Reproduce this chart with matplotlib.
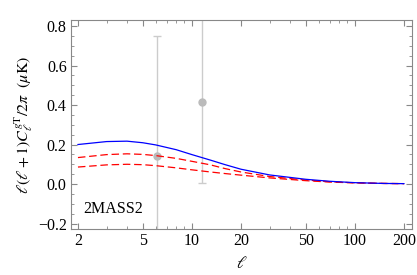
import numpy as np
import matplotlib
matplotlib.use('Agg')
from matplotlib import pyplot as plt
from matplotlib.ticker import FixedLocator, MultipleLocator, NullFormatter

# values
ell = [2, 3, 4, 5, 6, 8, 10, 13, 16, 20, 30, 50, 70, 100, 150, 200]
cl_blue = [0.200, 0.215, 0.217, 0.209, 0.198, 0.174, 0.149, 0.121, 0.098, 0.075,
           0.046, 0.024, 0.014, 0.007, 0.003, 0.002]
cl_red_hi = [0.134, 0.149, 0.153, 0.150, 0.144, 0.130, 0.115, 0.097, 0.078, 0.061,
             0.038, 0.020, 0.012, 0.006, 0.003, 0.002]
cl_red_lo = [0.086, 0.097, 0.100, 0.098, 0.093, 0.082, 0.072, 0.061, 0.053, 0.045,
             0.031, 0.017, 0.010, 0.006, 0.003, 0.002]

# data points with error bars (lower / upper)
ell_pts = [6.1, 11.5]
cl_pts = [0.143, 0.415]
cl_err_lo = [0.606, 0.412]
cl_err_hi = [0.606, 0.45]

xticks = [2, 5, 10, 20, 50, 100, 200]
yticks = [-0.2, 0.0, 0.2, 0.4, 0.6, 0.8]

plt.rcParams['font.family'] = ['Liberation Serif', 'DejaVu Serif']
plt.rcParams['mathtext.fontset'] = 'stix'

fig = plt.figure(figsize=(4.17, 2.75), dpi=100)
ax = fig.add_axes([0.170, 0.167, 0.818, 0.760])

frame = '#888888'
ax.errorbar(ell_pts, cl_pts, yerr=[cl_err_lo, cl_err_hi], fmt='o', color='#bbbbbb',
            ecolor='#cccccc', elinewidth=1.0, capsize=3, capthick=1.0, markersize=5, zorder=1)
ax.plot(ell, cl_blue, color='#0000ff', lw=0.9, zorder=3)
ax.plot(ell, cl_red_hi, color='#ff0000', lw=0.9, dashes=(6, 3), zorder=2)
ax.plot(ell, cl_red_lo, color='#ff0000', lw=0.9, dashes=(6, 3), zorder=2)

ax.set_xscale('log')
ax.set_xlim(1.81, 224)
ax.set_ylim(-0.228, 0.83)

ax.xaxis.set_major_locator(FixedLocator(xticks))
ax.set_xticklabels([str(t) for t in xticks])
ax.xaxis.set_minor_locator(FixedLocator([3, 4, 6, 7, 8, 9, 30, 40, 60, 70, 80, 90]))
ax.xaxis.set_minor_formatter(NullFormatter())
ax.yaxis.set_major_locator(FixedLocator(yticks))
ax.set_yticklabels(['\u22120.2', '0.0', '0.2', '0.4', '0.6', '0.8'])
ax.yaxis.set_minor_locator(MultipleLocator(0.05))

ax.tick_params(which='both', direction='in', top=True, right=True, color=frame,
               labelsize=11.5, pad=3)
ax.tick_params(which='major', length=4, width=0.8)
ax.tick_params(which='minor', length=2, width=0.6)
for s in ax.spines.values():
    s.set_color(frame)
    s.set_linewidth(0.8)

ax.set_xlabel(r'$\ell$', fontsize=12, labelpad=5)
ax.set_ylabel(r'$\ell(\ell+1)C_\ell^{g\mathrm{T}}/2\pi\ \ (\mu\mathrm{K})$', fontsize=11.5, labelpad=2)

ax.text(2.15, -0.145, '2MASS2', fontsize=11.5)

fig.savefig('out.png', dpi=100)
